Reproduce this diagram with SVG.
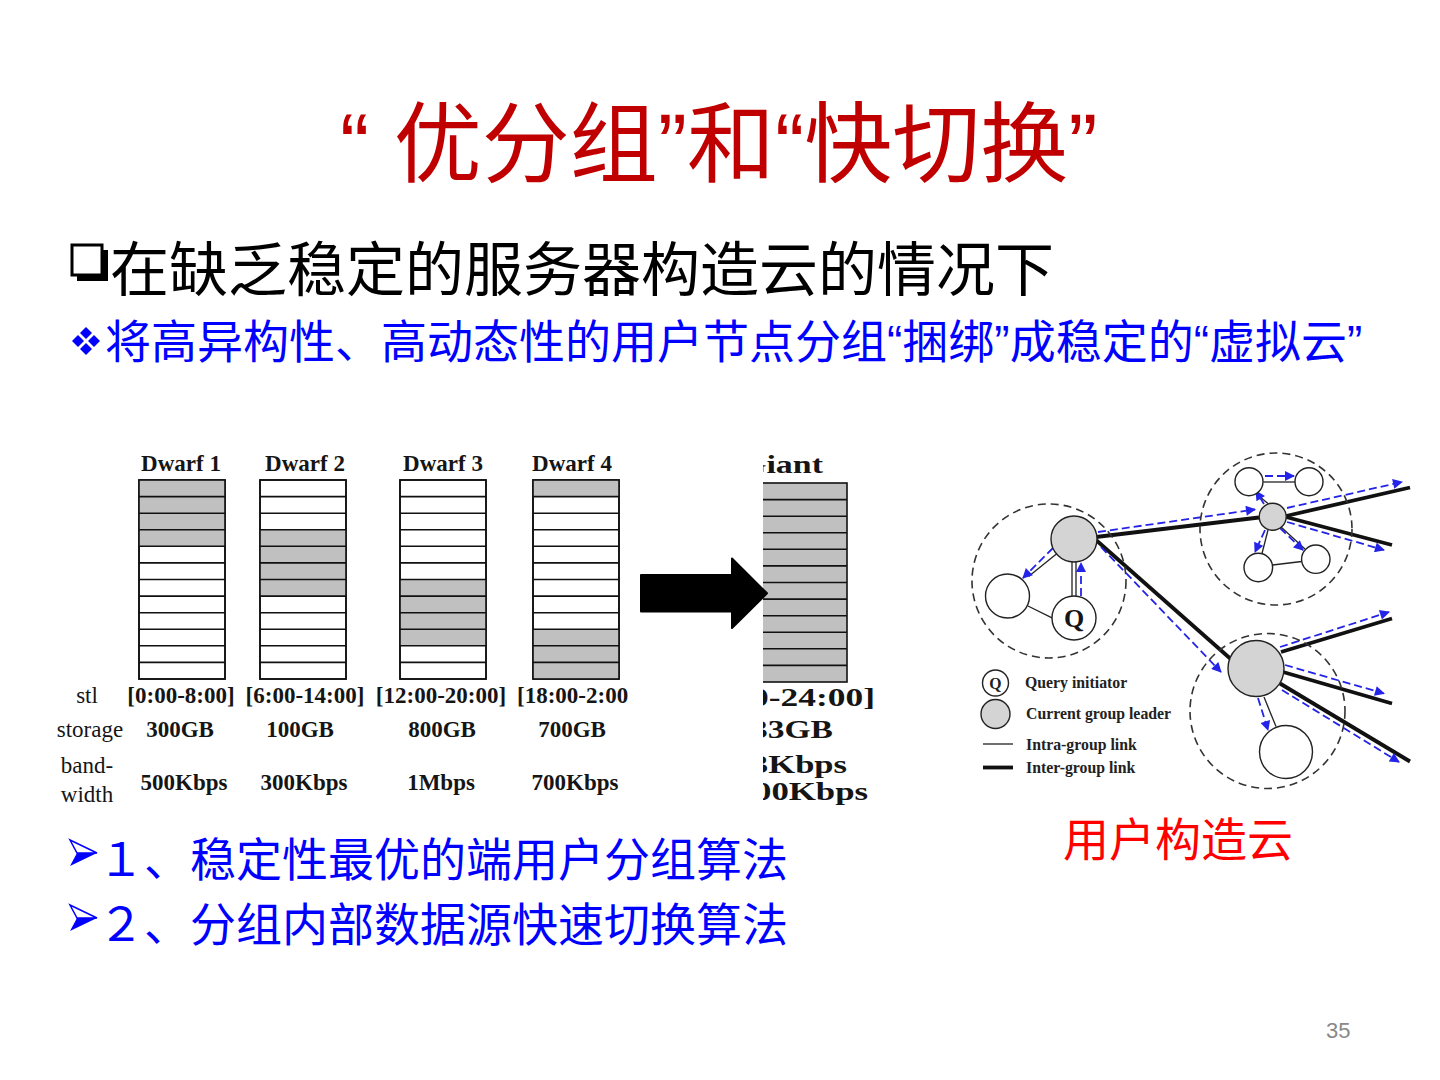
<svg xmlns="http://www.w3.org/2000/svg" xmlns:xlink="http://www.w3.org/1999/xlink" width="1440" height="1080" viewBox="0 0 1440 1080">
<style>
.cjk{font-family:"Liberation Sans","Noto Sans CJK SC",sans-serif}
.title{font-size:88px;fill:#c00000}
.h1{font-size:59px;fill:#000}
.h2{font-size:46px;fill:#0000ff}
.tb{font-family:"Liberation Serif",serif;font-weight:bold;font-size:23px;fill:#151515;text-anchor:middle}
.tr{font-family:"Liberation Serif",serif;font-size:23px;fill:#151515;text-anchor:middle}
.tg{font-family:"Liberation Serif",serif;font-weight:bold;font-size:25px;fill:#151515}
.lg{font-family:"Liberation Serif",serif;font-weight:bold;font-size:15.8px;fill:#222}
.box{fill:#fff;stroke:#111;stroke-width:1.6}
.sh{fill:#c0c0c0}
.rl{fill:none;stroke:#111;stroke-width:1.6}
.grp{fill:none;stroke:#333;stroke-width:1.6;stroke-dasharray:8 5}
.nw{fill:#fff;stroke:#222;stroke-width:1.4}
.ng{fill:#d4d4d4;stroke:#222;stroke-width:1.4}
.thin{stroke:#222;stroke-width:1.3;fill:none}
.thick{stroke:#111;stroke-width:3.8;fill:none}
.bd{stroke:#2424e8;stroke-width:1.8;stroke-dasharray:8 4;fill:none;marker-end:url(#ba)}
</style>
<defs>
<marker id="ba" viewBox="0 0 10 10" refX="9" refY="5" markerWidth="12" markerHeight="10" markerUnits="userSpaceOnUse" orient="auto">
<path d="M0,0L10,5L0,10z" fill="#2424e8"/>
</marker>
<path id="rows" class="rl" d="M0 16.6h86M0 33.2h86M0 49.7h86M0 66.3h86M0 82.9h86M0 99.5h86M0 116.1h86M0 132.7h86M0 149.2h86M0 165.8h86M0 182.4h86"/>
<clipPath id="cg"><rect x="763" y="440" width="200" height="380"/></clipPath>
</defs>
<rect width="1440" height="1080" fill="#fff"/>

<text class="cjk title" x="340" y="175">“ 优分组”和“快切换”</text>

<g id="bullet-square">
<rect x="77" y="250" width="31" height="31" fill="#000"/>
<rect x="72" y="245" width="30" height="30" fill="#fff" stroke="#000" stroke-width="3"/>
</g>
<text class="cjk h1" x="110" y="291">在缺乏稳定的服务器构造云的情况下</text>

<g id="bullet-diamond" fill="#0000ff">
<path d="M86 327l6 6-6 6-6-6z"/>
<path d="M78 335l6 6-6 6-6-6z"/>
<path d="M94 335l6 6-6 6-6-6z"/>
<path d="M86 343l6 6-6 6-6-6z"/>
</g>
<text class="cjk h2" x="105" y="358">将高异构性、高动态性的用户节点分组“捆绑”成稳定的“虚拟云”</text>

<g id="dwarf-table">
<g id="dwarf1" transform="translate(139,480)">
<rect class="box" width="86" height="199"/>
<rect class="sh" width="86" height="66.3"/>
<use xlink:href="#rows"/>
<rect class="rl" width="86" height="199"/>
</g>
<g id="dwarf2" transform="translate(260,480)">
<rect class="box" width="86" height="199"/>
<rect class="sh" y="49.7" width="86" height="66.4"/>
<use xlink:href="#rows"/>
<rect class="rl" width="86" height="199"/>
</g>
<g id="dwarf3" transform="translate(400,480)">
<rect class="box" width="86" height="199"/>
<rect class="sh" y="99.5" width="86" height="66.3"/>
<use xlink:href="#rows"/>
<rect class="rl" width="86" height="199"/>
</g>
<g id="dwarf4" transform="translate(533,480)">
<rect class="box" width="86" height="199"/>
<rect class="sh" width="86" height="16.6"/>
<rect class="sh" y="149.2" width="86" height="49.8"/>
<use xlink:href="#rows"/>
<rect class="rl" width="86" height="199"/>
</g>
<text class="tb" x="181" y="471">Dwarf 1</text>
<text class="tb" x="305" y="471">Dwarf 2</text>
<text class="tb" x="443" y="471">Dwarf 3</text>
<text class="tb" x="572" y="471">Dwarf 4</text>
<text class="tr" x="87" y="703">stl</text>
<text class="tb" x="181" y="703">[0:00-8:00]</text>
<text class="tb" x="305" y="703">[6:00-14:00]</text>
<text class="tb" x="441" y="703">[12:00-20:00]</text>
<text class="tb" x="517" y="703" style="text-anchor:start">[18:00-2:00</text>
<text class="tr" x="90" y="737">storage</text>
<text class="tb" x="180" y="737">300GB</text>
<text class="tb" x="300" y="737">100GB</text>
<text class="tb" x="442" y="737">800GB</text>
<text class="tb" x="572" y="737">700GB</text>
<text class="tr" x="87" y="773">band-</text>
<text class="tr" x="87" y="802">width</text>
<text class="tb" x="184" y="790">500Kbps</text>
<text class="tb" x="304" y="790">300Kbps</text>
<text class="tb" x="441" y="790">1Mbps</text>
<text class="tb" x="575" y="790">700Kbps</text>
</g>

<g id="giant" clip-path="url(#cg)">
<g transform="translate(761,483)">
<rect class="sh" width="86" height="199" stroke="#111" stroke-width="1.6"/>
<use xlink:href="#rows"/>
</g>
<text class="tg" x="740" y="473" textLength="83" lengthAdjust="spacingAndGlyphs">Giant</text>
<text class="tg" x="751" y="706" textLength="124" lengthAdjust="spacingAndGlyphs">0-24:00]</text>
<text class="tg" x="751" y="738" textLength="82" lengthAdjust="spacingAndGlyphs">33GB</text>
<text class="tg" x="751" y="773" textLength="96" lengthAdjust="spacingAndGlyphs">3Kbps</text>
<text class="tg" x="754" y="800" textLength="114" lengthAdjust="spacingAndGlyphs">00Kbps</text>
</g>

<g id="big-arrow">
<path d="M641 575H732V558.5L767 593.3L732 628V611.5H641z" fill="#000" stroke="#000" stroke-width="2" stroke-linejoin="round"/>
</g>

<g id="connectors">
<path class="thick" d="M1096 537L1259 517.5"/>
<path class="thick" d="M1286 516L1410 487.5"/>
<path class="thick" d="M1286 517L1392 545"/>
<path class="thick" d="M1096 540L1233 661"/>
<path class="thick" d="M1281 652L1392 618.5"/>
<path class="thick" d="M1283 672L1392 703.5"/>
<path class="thick" d="M1280 683.5L1410 761.5"/>
<path class="thin" d="M1028 606L1053 618.3"/>
<path class="thin" d="M1057 553.5L1028.5 576.5"/>
<path class="thin" d="M1072 562V596M1076 562V596"/>
<path class="thin" d="M1263.3 482H1295"/>
<path class="thin" d="M1268 503.5L1257 494.5"/>
<path class="thin" d="M1268 530L1262 553.5"/>
<path class="thin" d="M1281 527L1305 549"/>
<path class="thin" d="M1272.5 565L1301.7 561.5"/>
<path class="thin" d="M1264 697L1276 726.5"/>
<path class="bd" d="M1098 532L1255 509.5"/>
<path class="bd" d="M1287 508L1402 482"/>
<path class="bd" d="M1287 522L1384 550"/>
<path class="bd" d="M1101 547L1221 672"/>
<path class="bd" d="M1280 647L1389 612"/>
<path class="bd" d="M1285 665L1384 693.5"/>
<path class="bd" d="M1282 690L1399 762"/>
<path class="bd" d="M1258 698L1268 730"/>
<path class="bd" d="M1081 596V563"/>
<path class="bd" d="M1053 548L1023 578"/>
<path class="bd" d="M1265 476H1294"/>
<path class="bd" d="M1264 504L1256 491"/>
<path class="bd" d="M1265 530L1255 552"/>
<path class="bd" d="M1280 528L1303 550"/>
</g>

<g id="group-a">
<circle class="grp" cx="1049" cy="581" r="77"/>
<g id="a-leader"><circle class="ng" cx="1074" cy="539" r="23"/></g>
<g id="a-node"><circle class="nw" cx="1007.5" cy="596" r="22"/></g>
<g id="a-query"><circle class="nw" cx="1074" cy="618" r="22"/><text class="tg" x="1074" y="627" style="text-anchor:middle;font-size:26px">Q</text></g>
</g>
<g id="group-b">
<circle class="grp" cx="1276" cy="529" r="76"/>
<g id="b-leader"><circle class="ng" cx="1272.7" cy="516.7" r="13.5"/></g>
<g id="b-node1"><circle class="nw" cx="1249" cy="481.7" r="14"/></g>
<g id="b-node2"><circle class="nw" cx="1309" cy="481.7" r="14"/></g>
<g id="b-node3"><circle class="nw" cx="1258.3" cy="567.5" r="14.3"/></g>
<g id="b-node4"><circle class="nw" cx="1315.8" cy="559.2" r="14.2"/></g>
</g>
<g id="group-c">
<circle class="grp" cx="1267.5" cy="711" r="77.5"/>
<g id="c-leader"><circle class="ng" cx="1256" cy="668.5" r="28"/></g>
<g id="c-node"><circle class="nw" cx="1286" cy="752" r="26.5"/></g>
</g>

<g id="legend">
<circle class="nw" cx="995.5" cy="683" r="13"/>
<text class="lg" x="995.5" y="689" style="text-anchor:middle">Q</text>
<circle class="ng" cx="995.5" cy="714" r="14.5"/>
<path class="thin" d="M983 744H1013"/>
<path class="thick" d="M983 767.5H1013"/>
<text class="lg" x="1025" y="688">Query initiator</text>
<text class="lg" x="1026" y="719">Current group leader</text>
<text class="lg" x="1026" y="750">Intra-group link</text>
<text class="lg" x="1026" y="773">Inter-group link</text>
</g>

<text class="cjk" x="1063" y="856" style="font-size:46px;fill:#ff0000">用户构造云</text>

<g id="bullet-arrow1">
<path d="M70 840L97 853L77 853z" fill="#fff" stroke="#0000ff" stroke-width="1.5"/>
<path d="M77 853L97 853L70 866z" fill="#0000ff"/>
</g>
<text class="cjk h2" x="98" y="876">１、稳定性最优的端用户分组算法</text>
<g id="bullet-arrow2">
<path d="M70 905L97 918L77 918z" fill="#fff" stroke="#0000ff" stroke-width="1.5"/>
<path d="M77 918L97 918L70 931z" fill="#0000ff"/>
</g>
<text class="cjk h2" x="98" y="941">２、分组内部数据源快速切换算法</text>

<text x="1326" y="1038" style="font-family:'Liberation Sans',sans-serif;font-size:22px;fill:#898989">35</text>
</svg>
